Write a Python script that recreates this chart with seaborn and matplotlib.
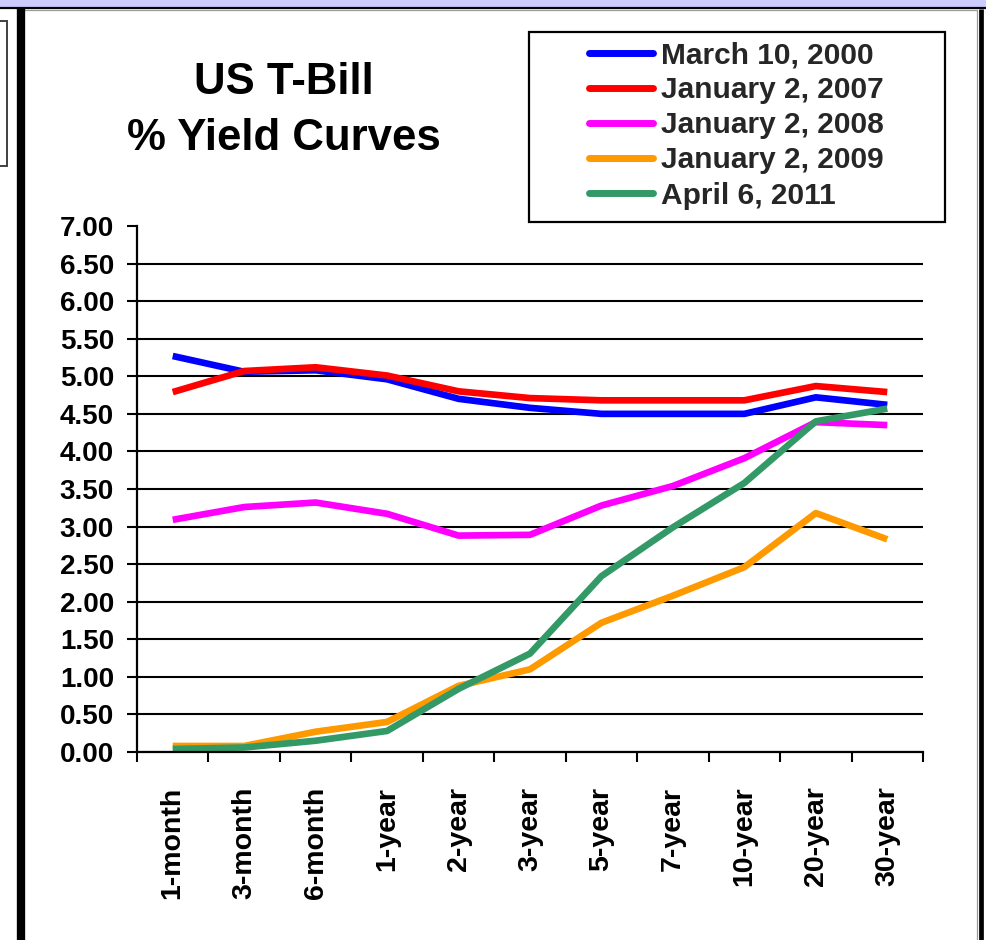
import numpy as np
import pandas as pd
import matplotlib
matplotlib.use("Agg")
import matplotlib.pyplot as plt
import seaborn as sns
from matplotlib.patches import Rectangle
from matplotlib.lines import Line2D
from matplotlib.ticker import FixedLocator

# Treasury maturities along the curve
maturities = ["1-month", "3-month", "6-month", "1-year", "2-year", "3-year",
              "5-year", "7-year", "10-year", "20-year", "30-year"]

# Yields (%) on each date
mar_2000 = [5.27, 5.06, 5.08, 4.96, 4.70, 4.58, 4.50, 4.50, 4.50, 4.72, 4.62]
jan_2007 = [4.79, 5.07, 5.12, 5.01, 4.80, 4.71, 4.68, 4.68, 4.68, 4.87, 4.79]
jan_2008 = [3.09, 3.26, 3.32, 3.17, 2.88, 2.89, 3.28, 3.54, 3.91, 4.39, 4.35]
jan_2009 = [0.08, 0.08, 0.27, 0.40, 0.88, 1.10, 1.72, 2.08, 2.46, 3.18, 2.83]
apr_2011 = [0.04, 0.06, 0.15, 0.28, 0.84, 1.31, 2.34, 2.99, 3.58, 4.40, 4.57]

series_names = ["March 10, 2000", "January 2, 2007", "January 2, 2008",
                "January 2, 2009", "April 6, 2011"]
series_values = [mar_2000, jan_2007, jan_2008, jan_2009, apr_2011]
series_colors = ["#0000FF", "#FF0000", "#FF00FF", "#FF9900", "#339966"]

y_ticks = [0.00, 0.50, 1.00, 1.50, 2.00, 2.50, 3.00, 3.50,
           4.00, 4.50, 5.00, 5.50, 6.00, 6.50, 7.00]

df = pd.DataFrame({
    "maturity": maturities * len(series_names),
    "yield": [v for vals in series_values for v in vals],
    "date": [n for n in series_names for _ in maturities],
})

sns.set_theme(style="white")
plt.rcParams["font.family"] = ["Liberation Sans", "DejaVu Sans"]
plt.rcParams["font.weight"] = "bold"

W, H = 987, 940
fig = plt.figure(figsize=(W / 100, H / 100), dpi=100)
fig.patch.set_facecolor("white")


def fx(px):
    return px / W


def fy(py):
    return 1 - py / H


# Window frame around the chart
fig.add_artist(Rectangle((0, fy(7)), 1, 7 / H, transform=fig.transFigure,
                         facecolor="#CCCCFF", edgecolor="none", zorder=0))
fig.add_artist(Line2D([0, 1], [fy(8), fy(8)], transform=fig.transFigure,
                      color="black", lw=1.6))
fig.add_artist(Line2D([fx(25), fx(977)], [fy(10), fy(10)], transform=fig.transFigure,
                      color="#9a9a9a", lw=0.9))
fig.add_artist(Line2D([fx(21), fx(21)], [fy(9), 0], transform=fig.transFigure,
                      color="black", lw=6, solid_capstyle="butt"))
fig.add_artist(Line2D([fx(977), fx(977)], [fy(10), 0], transform=fig.transFigure,
                      color="#9a9a9a", lw=0.9))
fig.add_artist(Line2D([fx(981), fx(981)], [fy(9), 0], transform=fig.transFigure,
                      color="black", lw=3.4, solid_capstyle="butt"))
fig.add_artist(Rectangle((fx(-3), fy(166)), fx(10), (166 - 21) / H,
                         transform=fig.transFigure, facecolor="white",
                         edgecolor="#404040", lw=1.4))

ax = fig.add_axes([fx(137), fy(752), fx(923) - fx(137), (752 - 226) / H])

sns.lineplot(data=df, x="maturity", y="yield", hue="date",
             hue_order=series_names, palette=series_colors,
             sort=False, lw=4.8, ax=ax, legend=False)
for line in ax.get_lines():
    line.set_solid_capstyle("butt")
    line.set_solid_joinstyle("round")

ax.set_xlim(-0.5, len(maturities) - 0.5)
ax.set_ylim(0, 7)
ax.set_xlabel("")
ax.set_ylabel("")

# y axis: ticks, labels and gridlines
ax.set_yticks(y_ticks)
ax.set_yticklabels([f"{v:.2f}" for v in y_ticks], fontsize=20, fontweight="bold")
ax.yaxis.grid(True, color="black", lw=1.5)
ax.get_ygridlines()[-1].set_visible(False)
ax.tick_params(axis="y", direction="out", length=7.5, width=1.5, pad=9,
               colors="black", left=True)

# x axis: tick marks between categories, labels at category centres
ax.set_xticks(range(len(maturities)))
ax.set_xticklabels(maturities, rotation=90, fontsize=20.5, fontweight="bold")
ax.xaxis.set_minor_locator(FixedLocator(np.arange(-0.5, len(maturities), 1.0)))
ax.tick_params(axis="x", which="major", length=0, pad=25, colors="black")
ax.tick_params(axis="x", which="minor", direction="out", length=7.5, width=1.5,
               bottom=True, colors="black")

for side in ["top", "right"]:
    ax.spines[side].set_visible(False)
for side in ["left", "bottom"]:
    ax.spines[side].set_color("black")
    ax.spines[side].set_linewidth(1.6)
ax.set_facecolor("white")

# Title block
fig.text(fx(284), fy(94), "US T-Bill", ha="center", va="baseline",
         fontsize=31.5, fontweight="bold", color="black")
fig.text(fx(284), fy(150), "% Yield Curves", ha="center", va="baseline",
         fontsize=31.5, fontweight="bold", color="black")

# Legend inside its own box
fig.add_artist(Rectangle((fx(529), fy(222)), fx(945) - fx(529), (222 - 32) / H,
                         transform=fig.transFigure, facecolor="white",
                         edgecolor="black", lw=1.6, zorder=1))
handles = [Line2D([0], [0], color=c, lw=5, solid_capstyle="round") for c in series_colors]
leg = fig.legend(handles, series_names, loc="upper left",
                 bbox_to_anchor=(fx(589), fy(41)), frameon=False,
                 prop={"size": 21.5, "weight": "bold"}, handlelength=2.15,
                 handletextpad=0.25, labelspacing=0.24, borderpad=0,
                 borderaxespad=0)
leg.set_zorder(2)

fig.savefig("out.png", dpi=100, facecolor="white")
